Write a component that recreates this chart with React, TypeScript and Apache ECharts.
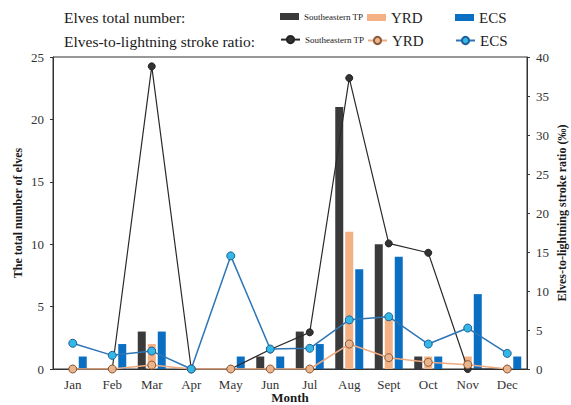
import React, { useEffect, useRef } from "react";
import * as echarts from "echarts";

const months = ["Jan", "Feb", "Mar", "Apr", "May", "Jun", "Jul", "Aug", "Sept", "Oct", "Nov", "Dec"];

// Elves total number (left axis)
const barSE = [0, 0, 3, 0, 0, 1, 3, 21, 10, 1, 0, 0];
const barYRD = [0, 0, 2, 0, 0, 0, 0, 11, 4, 1, 1, 0];
const barECS = [1, 2, 3, 0, 1, 1, 2, 8, 9, 1, 6, 1];

// Elves-to-lightning stroke ratio (‰, right axis)
const ratioSE = [0, 0, 38.8, 0, 0, 2.5, 4.7, 37.3, 16.1, 14.9, 0, 0];
const ratioYRD = [0, 0, 0.5, 0, 0, 0, 0, 3.2, 1.45, 0.86, 0.56, 0];
const ratioECS = [3.3, 1.75, 2.3, 0, 14.5, 2.56, 2.65, 6.3, 6.7, 3.2, 5.25, 2.0];

const leftTicks = { min: 0, max: 25, interval: 5 };
const rightTicks = { min: 0, max: 40, interval: 5 };

const FONT = "'Liberation Serif', 'DejaVu Serif', serif";

export default function App() {
  const ref = useRef<HTMLDivElement>(null);

  useEffect(() => {
    if (!ref.current) return;
    const chart = echarts.init(ref.current, null, { renderer: "svg" });

    const cSE = "#3a3a3a";
    const cYRD = "#f4b183";
    const cECS = "#0a6fc2";

    const legendBase = (left: number, top: number, name: string, label: string, isBar: boolean, small: boolean) => ({
      left,
      top,
      data: [name],
      itemWidth: 19,
      itemHeight: isBar ? 7 : 9,
      icon: isBar ? "rect" : undefined,
      padding: 0,
      selectedMode: false,
      formatter: () => label,
      textStyle: {
        fontFamily: FONT,
        fontSize: small ? 9 : 15,
        color: "#222",
      },
    });

    const txt = (text: string, x: number, y: number, size: number, bold: boolean, rot = 0, align = "left") => ({
      type: "text",
      x,
      y,
      rotation: rot,
      style: {
        text,
        fontFamily: FONT,
        fontSize: size,
        fontWeight: bold ? "bold" : "normal",
        fill: "#1a1a1a",
        align,
        verticalAlign: "middle",
      },
    });

    const option: any = {
      animation: false,
      textStyle: { fontFamily: FONT },
      graphic: [
        txt("Elves total number:", 64, 17, 15.5, false),
        txt("Elves-to-lightning stroke ratio:", 64, 41, 15.5, false),
        txt("The total number of elves", 18, 213, 12, true, Math.PI / 2, "center"),
        txt("Elves-to-lightning stroke ratio (‰)", 562, 213, 12, true, Math.PI / 2, "center"),
        txt("Month", 290, 397, 13, true, 0, "center"),
      ],
      legend: [
        legendBase(280, 12, "SE bar", "Southeastern TP", true, true),
        legendBase(367, 10, "YRD bar", "YRD", true, false),
        legendBase(455, 10, "ECS bar", "ECS", true, false),
        legendBase(280, 35, "SE ratio", "Southeastern TP", false, true),
        legendBase(367, 33, "YRD ratio", "YRD", false, false),
        legendBase(455, 33, "ECS ratio", "ECS", false, false),
      ],
      grid: {
        left: 53,
        right: 44,
        top: 57,
        bottom: 36,
        show: true,
        borderColor: "#333",
        borderWidth: 1,
      },
      xAxis: {
        type: "category",
        data: months,
        boundaryGap: true,
        axisLine: { lineStyle: { color: "#333", width: 1 } },
        axisTick: { show: false },
        axisLabel: { fontFamily: FONT, fontSize: 13, color: "#333", margin: 9 },
      },
      yAxis: [
        {
          type: "value",
          ...leftTicks,
          position: "left",
          axisLine: { show: true, lineStyle: { color: "#333", width: 1 } },
          axisTick: { show: true, length: 3, lineStyle: { color: "#333" } },
          axisLabel: { fontFamily: FONT, fontSize: 13, color: "#333", margin: 9 },
          splitLine: { show: false },
        },
        {
          type: "value",
          ...rightTicks,
          position: "right",
          axisLine: { show: true, lineStyle: { color: "#333", width: 1 } },
          axisTick: { show: true, length: 3, lineStyle: { color: "#333" } },
          axisLabel: { fontFamily: FONT, fontSize: 13, color: "#333", margin: 9 },
          splitLine: { show: false },
        },
      ],
      series: [
        {
          name: "SE bar",
          type: "bar",
          yAxisIndex: 0,
          data: barSE,
          barWidth: 8,
          barGap: "25%",
          itemStyle: { color: cSE },
        },
        {
          name: "YRD bar",
          type: "bar",
          yAxisIndex: 0,
          data: barYRD,
          barWidth: 8,
          barGap: "25%",
          itemStyle: { color: cYRD },
        },
        {
          name: "ECS bar",
          type: "bar",
          yAxisIndex: 0,
          data: barECS,
          barWidth: 8,
          barGap: "25%",
          itemStyle: { color: cECS },
        },
        {
          name: "SE ratio",
          type: "line",
          yAxisIndex: 1,
          data: ratioSE,
          symbol: "circle",
          symbolSize: 7,
          lineStyle: { color: "#2a2a2a", width: 1.2 },
          itemStyle: { color: "#333", borderColor: "#222", borderWidth: 1 },
        },
        {
          name: "YRD ratio",
          type: "line",
          yAxisIndex: 1,
          data: ratioYRD,
          symbol: "circle",
          symbolSize: 8,
          lineStyle: { color: "#eeaa80", width: 1.5 },
          itemStyle: { color: "#eab48c", borderColor: "#8a5a3a", borderWidth: 1 },
        },
        {
          name: "ECS ratio",
          type: "line",
          yAxisIndex: 1,
          data: ratioECS,
          symbol: "circle",
          symbolSize: 8,
          lineStyle: { color: "#2e75b6", width: 1.5 },
          itemStyle: { color: "#33b8e6", borderColor: "#1f5f9a", borderWidth: 1 },
        },
      ],
    };

    chart.setOption(option);
    return () => chart.dispose();
  }, []);

  return (
    <div
      ref={ref}
      style={{ position: "absolute", left: 0, top: 0, width: 571, height: 405 }}
    />
  );
}
